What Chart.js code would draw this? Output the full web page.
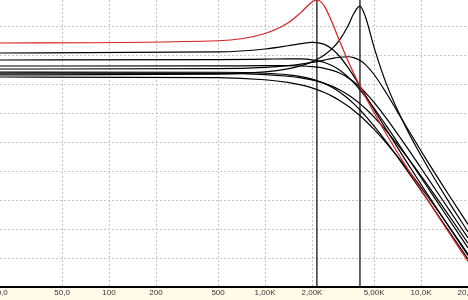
<!DOCTYPE html>
<html>
<head>
<meta charset="utf-8">
<script src="https://cdn.jsdelivr.net/npm/chart.js@4.4.0/dist/chart.umd.min.js"></script>
<style>
  html, body { margin: 0; padding: 0; background: #fff; overflow: hidden; }
  #cadre { position: relative; width: 468px; height: 300px; overflow: hidden; }
  /* canvas un peu plus large pour que les étiquettes des bords soient coupées */
  #wrap { position: absolute; left: -20px; top: 0; width: 508px; height: 300px; }
</style>
</head>
<body>
<div id="cadre"><div id="wrap"><canvas id="chartFiltre"></canvas></div></div>
<script>
// Fréquences (Hz) communes à toutes les courbes
const freqs = [20, 500, 1000, 1400, 1700, 2000, 2150, 2400, 2700, 3000, 3400, 3700, 4050, 4400, 5000, 6000, 8000, 11000, 15000, 20000];

// Réponses en dB
const courbeRouge = [2.21, 2.60, 3.86, 5.66, 7.51, 9.31, 9.66, 8.60, 5.66, 2.60, -0.85, -3.01, -5.19, -7.08, -9.86, -13.58, -19.10, -24.94, -30.49, -35.56];
const courbeA = [0.48, 0.66, 1.17, 1.73, 2.11, 2.31, 2.28, 1.97, 1.14, -0.08, -2.02, -3.52, -5.22, -6.82, -9.30, -12.80, -18.17, -23.95, -29.48, -34.54];
const courbeB = [-2.29, -2.21, -1.99, -1.71, -1.44, -1.15, -1.00, -0.74, -0.46, -0.25, -0.17, -0.33, -0.79, -1.53, -3.24, -6.48, -12.14, -18.26, -23.99, -29.17];
const courbeC = [-0.73, -0.68, -0.58, -0.52, -0.55, -0.70, -0.84, -1.16, -1.73, -2.46, -3.66, -4.65, -5.85, -7.07, -9.08, -12.14, -17.16, -22.75, -28.19, -33.22];
const courbeD = [-1.77, -1.75, -1.72, -1.72, -1.77, -1.88, -1.97, -2.18, -2.53, -2.99, -3.79, -4.50, -5.41, -6.37, -8.07, -10.83, -15.60, -21.09, -26.49, -31.50];
const courbeE = [-2.81, -2.85, -3.02, -3.29, -3.60, -4.03, -4.28, -4.78, -5.47, -6.25, -7.38, -8.28, -9.34, -10.40, -12.17, -14.91, -19.55, -24.91, -30.22, -35.18];
const courbeF = [-3.00, -3.06, -3.26, -3.54, -3.82, -4.18, -4.39, -4.77, -5.30, -5.89, -6.75, -7.44, -8.27, -9.13, -10.60, -12.98, -17.23, -22.34, -27.53, -32.43];
const courbeG = [-3.67, -3.79, -4.15, -4.60, -5.04, -5.56, -5.85, -6.36, -7.02, -7.72, -8.70, -9.45, -10.34, -11.23, -12.73, -15.10, -19.27, -24.30, -29.42, -34.29];
const courbeP = [-3.30, -3.17, -2.79, -2.26, -1.73, -1.05, -0.65, 0.12, 1.27, 2.70, 5.16, 7.26, 8.59, 6.76, 1.45, -4.90, -12.40, -19.20, -25.18, -30.47];

// Curseurs verticaux (Hz)
const marqueurs = [2150, 4060];

// Graduations
const ticksX = [20, 50, 100, 200, 500, 1000, 2000, 5000, 10000, 20000];
const labelsX = ['20,0', '50,0', '100', '200', '500', '1,00K', '2,00K', '5,00K', '10,0K', '20,0K'];
const ticksY = [-35, -30, -25, -20, -15, -10, -5, 0, 5];
const Y_MIN = -40;
const Y_MAX = 9.65;

function points(vals) {
  return freqs.map((f, i) => ({ x: f, y: vals[i] }));
}

function serie(vals, couleur) {
  return {
    data: points(vals),
    borderColor: couleur,
    borderWidth: 1.2,
    cubicInterpolationMode: 'monotone',
    fill: false,
    pointRadius: 0
  };
}

function curseur(f) {
  return {
    data: [{ x: f, y: Y_MIN }, { x: f, y: Y_MAX }],
    borderColor: '#000',
    borderWidth: 1.2,
    tension: 0,
    fill: false,
    pointRadius: 0
  };
}

// Fond blanc + bande jaune pâle sous l'axe
const fondPlugin = {
  id: 'fond',
  beforeDraw(chart) {
    const { ctx, chartArea } = chart;
    ctx.save();
    ctx.fillStyle = '#ffffff';
    ctx.fillRect(0, 0, chart.width, chartArea.bottom);
    ctx.fillStyle = '#fffbe8';
    ctx.fillRect(0, chartArea.bottom, chart.width, chart.height - chartArea.bottom);
    ctx.restore();
  }
};

const ctx = document.getElementById('chartFiltre').getContext('2d');
new Chart(ctx, {
  type: 'line',
  data: {
    datasets: [
      serie(courbeRouge, '#d42020'),
      curseur(marqueurs[0]),
      curseur(marqueurs[1]),
      serie(courbeA, '#000'),
      serie(courbeP, '#000'),
      serie(courbeB, '#000'),
      serie(courbeC, '#000'),
      serie(courbeD, '#000'),
      serie(courbeE, '#000'),
      serie(courbeF, '#000'),
      serie(courbeG, '#000')
    ]
  },
  options: {
    responsive: true,
    maintainAspectRatio: false,
    animation: false,
    layout: { padding: { left: 20, right: 20, top: 0, bottom: 0 } },
    plugins: { legend: { display: false }, tooltip: { enabled: false } },
    scales: {
      x: {
        type: 'logarithmic',
        min: 20,
        max: 20000,
        afterBuildTicks: (s) => { s.ticks = ticksX.map(v => ({ value: v })); },
        afterFit: (s) => { s.paddingLeft = 0; s.paddingRight = 0; s.height = 13; },
        ticks: {
          autoSkip: false,
          maxRotation: 0,
          padding: 1,
          color: '#333',
          font: { family: 'Liberation Sans', size: 8 },
          callback: (v, i) => labelsX[i]
        },
        grid: {
          drawTicks: false,
          lineWidth: 1,
          color: (c) => (c.index === 0 || c.index === ticksX.length - 1) ? 'rgba(0,0,0,0)' : '#c4c4c4'
        },
        border: { display: true, color: '#000', width: 2, dash: [2, 2] }
      },
      y: {
        min: Y_MIN,
        max: Y_MAX,
        afterBuildTicks: (s) => { s.ticks = ticksY.map(v => ({ value: v })); },
        afterFit: (s) => { s.width = 0; },
        ticks: { display: false },
        grid: { drawTicks: false, lineWidth: 1, color: '#c4c4c4' },
        border: { display: false, dash: [2, 2] }
      }
    }
  },
  plugins: [fondPlugin]
});
</script>
</body>
</html>
